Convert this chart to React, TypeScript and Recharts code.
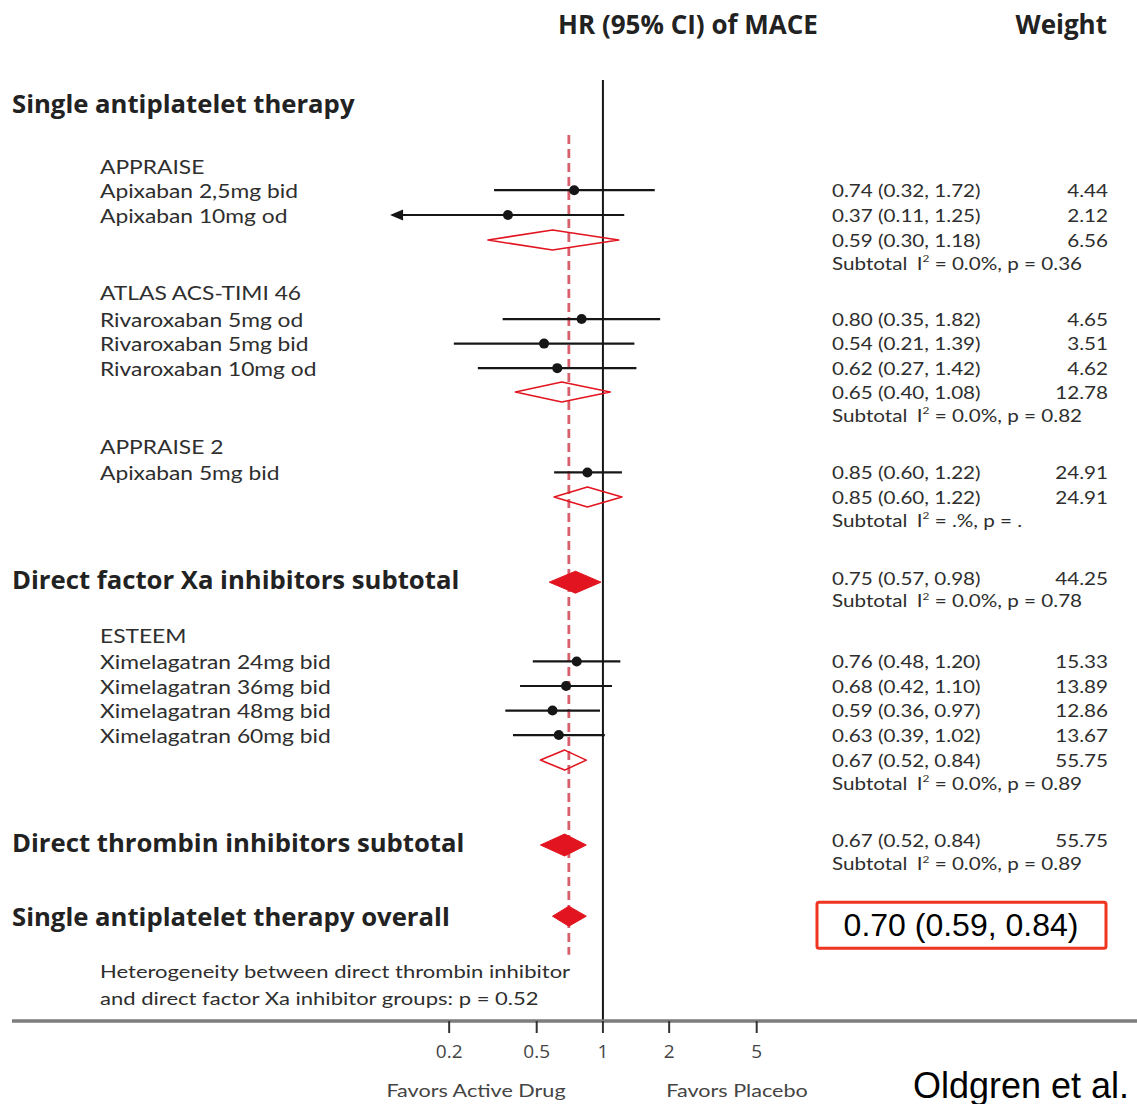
import React from 'react';
import {
  ComposedChart,
  XAxis,
  YAxis,
  Scatter,
  ReferenceLine,
  ReferenceDot,
  Customized,
} from 'recharts';

// ---------- data ----------
const X_TICKS = [0.2, 0.5, 1, 2, 5];

// individual trial arms
const armLabels = [
  'Apixaban 2,5mg bid',
  'Apixaban 10mg od',
  'Rivaroxaban 5mg od',
  'Rivaroxaban 5mg bid',
  'Rivaroxaban 10mg od',
  'Apixaban 5mg bid',
  'Ximelagatran 24mg bid',
  'Ximelagatran 36mg bid',
  'Ximelagatran 48mg bid',
  'Ximelagatran 60mg bid',
];
const armHR = [0.74, 0.37, 0.8, 0.54, 0.62, 0.85, 0.76, 0.68, 0.59, 0.63];
const armLow = [0.32, 0.11, 0.35, 0.21, 0.27, 0.6, 0.48, 0.42, 0.36, 0.39];
const armHigh = [1.72, 1.25, 1.82, 1.39, 1.42, 1.22, 1.2, 1.1, 0.97, 1.02];
const armWeight = ['4.44', '2.12', '4.65', '3.51', '4.62', '24.91', '15.33', '13.89', '12.86', '13.67'];
const armRow = [7.75, 8.76, 13.0, 14.0, 15.0, 19.25, 26.95, 27.95, 28.95, 29.95];

// trial headings
const trialNames = ['APPRAISE', 'ATLAS ACS-TIMI 46', 'APPRAISE 2', 'ESTEEM'];
const trialRow = [6.76, 11.93, 18.17, 25.87];

// pooled estimate per trial
const pooledHR = [0.59, 0.65, 0.85, 0.67];
const pooledLow = [0.3, 0.4, 0.6, 0.52];
const pooledHigh = [1.18, 1.08, 1.22, 0.84];
const pooledWeight = ['6.56', '12.78', '24.91', '55.75'];
const pooledHet = ['0.0%, p = 0.36', '0.0%, p = 0.82', '.%, p = .', '0.0%, p = 0.89'];
const pooledRow = [9.78, 15.97, 20.25, 30.97];

// drug-class subtotals
const classLabels = ['Direct factor Xa inhibitors subtotal', 'Direct thrombin inhibitors subtotal'];
const classHR = [0.75, 0.67];
const classLow = [0.57, 0.52];
const classHigh = [0.98, 0.84];
const classWeight = ['44.25', '55.75'];
const classHet = ['0.0%, p = 0.78', '0.0%, p = 0.89'];
const classRow = [23.72, 34.43];

// overall estimate
const sectionLabel = 'Single antiplatelet therapy';
const sectionRow = 4.2;
const overallLabel = 'Single antiplatelet therapy overall';
const overallHR = 0.7;
const overallLow = 0.59;
const overallHigh = 0.84;
const overallRow = 37.33;

const noteLines = [
  'Heterogeneity between direct thrombin inhibitor',
  'and direct factor Xa inhibitor groups: p = 0.52',
];
const noteRow = [39.55, 40.67];

// arrows mark intervals that reach the display floor
const CI_DISPLAY_MIN = 0.11;

// ---------- layout / style ----------
const W = 1137;
const H = 1104;
const PLOT_LEFT = 12;
const AXIS_BAND = 83;
const ROW_SPAN = 41.6;
const X_MIN = 0.00206;
const X_MAX = 267.7;

const SANS = '"Open Sans", "Noto Sans", sans-serif';
const BODY = 'Lato, "Open Sans", sans-serif';
const ARIAL = '"Liberation Sans", Arial, sans-serif';
const INK = '#161616';
const TEXT = '#2e2e2e';
const HEAD = '#222222';
const RED = '#e2141f';
const DASH_RED = '#d8606c';

const GROUP_X = 12;
const LABEL_X = 100;
const EST_X = 832;
const WEIGHT_X = 1108;

// wide body lettering
const LABEL_SIZE = 19;
const LABEL_SX = 1.2;
const EST_SIZE = 17.5;
const EST_SX = 1.18;
const NOTE_SIZE = 17.5;
const NOTE_SX = 1.26;

const fmt = (v: number) => v.toFixed(2);
const ciText = (hr: number, lo: number, hi: number) => `${fmt(hr)} (${fmt(lo)}, ${fmt(hi)})`;

type TxtProps = {
  x: number;
  y: number;
  size: number;
  sx?: number;
  anchor?: 'start' | 'middle' | 'end';
  weight?: number;
  fill?: string;
  family?: string;
  children: React.ReactNode;
};

const Txt = ({ x, y, size, sx = 1, anchor = 'start', weight = 400, fill = TEXT, family = BODY, children }: TxtProps) => (
  <text
    transform={`translate(${x},${y}) scale(${sx},1)`}
    textAnchor={anchor}
    dominantBaseline="central"
    fontFamily={family}
    fontSize={size}
    fontWeight={weight}
    fill={fill}
  >
    {children}
  </text>
);

const HetText = ({ x, y, het }: { x: number; y: number; het: string }) => (
  <Txt x={x} y={y} size={EST_SIZE} sx={EST_SX}>
    <tspan>Subtotal</tspan>
    <tspan dx={8}>I</tspan>
    <tspan fontSize={10} dy={-5}>2</tspan>
    <tspan dy={5}>{` = ${het}`}</tspan>
  </Txt>
);

// CI whisker drawn between the scaled endpoints of a segment
const ciShape = (arrowLeft: boolean) => (p: any) => {
  const { x1, y1, x2 } = p;
  return (
    <g>
      <line x1={x1} y1={y1} x2={x2} y2={y1} stroke={INK} strokeWidth={2.2} />
      {arrowLeft && (
        <polygon points={`${x1 - 2},${y1} ${x1 + 11},${y1 - 5.5} ${x1 + 11},${y1 + 5.5}`} fill={INK} />
      )}
    </g>
  );
};

// diamond spanning the CI with its apex at the point estimate (log scale)
const diamondShape = (hr: number, lo: number, hi: number, filled: boolean, half: number) => (p: any) => {
  const { x1, y1, x2 } = p;
  const t = (Math.log(hr) - Math.log(lo)) / (Math.log(hi) - Math.log(lo));
  const xc = x1 + t * (x2 - x1);
  const pts = `${x1},${y1} ${xc},${y1 - half} ${x2},${y1} ${xc},${y1 + half}`;
  return filled ? (
    <polygon points={pts} fill={RED} stroke={RED} strokeWidth={1} strokeLinejoin="round" />
  ) : (
    <polygon points={pts} fill="none" stroke={RED} strokeWidth={1.6} strokeLinejoin="round" />
  );
};

const Annotations = () => (
  <g>
    <Txt x={688} y={24} size={26} anchor="middle" weight={700} fill={HEAD} family={SANS}>
      HR (95% CI) of MACE
    </Txt>
    <Txt x={1107} y={24} size={26} anchor="end" weight={700} fill={HEAD} family={SANS}>
      Weight
    </Txt>
    <Txt x={476} y={1090} size={18} sx={1.2} anchor="middle" fill="#444">
      Favors Active Drug
    </Txt>
    <Txt x={737} y={1090} size={18} sx={1.2} anchor="middle" fill="#444">
      Favors Placebo
    </Txt>
    <Txt x={913} y={1085} size={36} fill="#000" family={ARIAL}>
      Oldgren et al.
    </Txt>
  </g>
);

const armPoints = armHR.map((hr, i) => ({ hr, pos: armRow[i] }));

export default function App() {
  return (
    <div style={{ position: 'absolute', left: 0, top: 0, width: W, height: H, background: '#fff' }}>
      <ComposedChart width={W} height={H} margin={{ top: 0, right: 0, bottom: 0, left: PLOT_LEFT }}>
        <XAxis
          dataKey="hr"
          type="number"
          scale="log"
          domain={[X_MIN, X_MAX]}
          allowDataOverflow
          ticks={X_TICKS}
          interval={0}
          height={AXIS_BAND}
          axisLine={{ stroke: '#7d7d7d', strokeWidth: 3.5 }}
          tickLine={{ stroke: '#333', strokeWidth: 2 }}
          tickSize={12}
          tickMargin={12}
          tick={{ fontSize: 19, fill: '#444', fontFamily: SANS }}
        />
        <YAxis dataKey="pos" type="number" domain={[0, ROW_SPAN]} reversed hide allowDataOverflow />

        {/* line of no effect */}
        <ReferenceLine segment={[{ x: 1, y: 3.26 }, { x: 1, y: ROW_SPAN }]} stroke={INK} strokeWidth={2} />
        {/* overall estimate */}
        <ReferenceLine
          segment={[{ x: overallHR, y: 5.5 }, { x: overallHR, y: 38.9 }]}
          stroke={DASH_RED}
          strokeWidth={2.8}
          strokeDasharray="9 5"
        />

        {/* confidence intervals of the arms */}
        {armHR.map((_, i) => (
          <ReferenceLine
            key={`ci-${i}`}
            segment={[{ x: armLow[i], y: armRow[i] }, { x: armHigh[i], y: armRow[i] }]}
            shape={ciShape(armLow[i] <= CI_DISPLAY_MIN)}
          />
        ))}

        {/* pooled diamonds */}
        {pooledHR.map((hr, i) => (
          <ReferenceLine
            key={`pd-${i}`}
            segment={[{ x: pooledLow[i], y: pooledRow[i] }, { x: pooledHigh[i], y: pooledRow[i] }]}
            shape={diamondShape(hr, pooledLow[i], pooledHigh[i], false, 10)}
          />
        ))}
        {classHR.map((hr, i) => (
          <ReferenceLine
            key={`cd-${i}`}
            segment={[{ x: classLow[i], y: classRow[i] }, { x: classHigh[i], y: classRow[i] }]}
            shape={diamondShape(hr, classLow[i], classHigh[i], true, 11)}
          />
        ))}
        <ReferenceLine
          segment={[{ x: overallLow, y: overallRow }, { x: overallHigh, y: overallRow }]}
          shape={diamondShape(overallHR, overallLow, overallHigh, true, 10)}
        />

        {/* point estimates */}
        <Scatter
          data={armPoints}
          isAnimationActive={false}
          shape={(p: any) => <circle cx={p.cx} cy={p.cy} r={5} fill={INK} />}
        />

        {/* row texts */}
        <ReferenceDot
          x={1}
          y={sectionRow}
          shape={(p: any) => (
            <Txt x={GROUP_X} y={p.cy} size={25.7} weight={700} fill={HEAD} family={SANS}>
              {sectionLabel}
            </Txt>
          )}
        />
        {trialNames.map((name, i) => (
          <ReferenceDot
            key={`tn-${i}`}
            x={1}
            y={trialRow[i]}
            shape={(p: any) => (
              <Txt x={LABEL_X} y={p.cy} size={LABEL_SIZE} sx={LABEL_SX}>
                {name}
              </Txt>
            )}
          />
        ))}
        {armLabels.map((label, i) => (
          <ReferenceDot
            key={`al-${i}`}
            x={1}
            y={armRow[i]}
            shape={(p: any) => (
              <g>
                <Txt x={LABEL_X} y={p.cy} size={LABEL_SIZE} sx={LABEL_SX}>
                  {label}
                </Txt>
                <Txt x={EST_X} y={p.cy} size={EST_SIZE} sx={EST_SX}>
                  {ciText(armHR[i], armLow[i], armHigh[i])}
                </Txt>
                <Txt x={WEIGHT_X} y={p.cy} size={EST_SIZE} sx={EST_SX} anchor="end">
                  {armWeight[i]}
                </Txt>
              </g>
            )}
          />
        ))}
        {pooledHR.map((hr, i) => (
          <ReferenceDot
            key={`pl-${i}`}
            x={1}
            y={pooledRow[i]}
            shape={(p: any) => (
              <g>
                <Txt x={EST_X} y={p.cy} size={EST_SIZE} sx={EST_SX}>
                  {ciText(hr, pooledLow[i], pooledHigh[i])}
                </Txt>
                <Txt x={WEIGHT_X} y={p.cy} size={EST_SIZE} sx={EST_SX} anchor="end">
                  {pooledWeight[i]}
                </Txt>
                <HetText x={EST_X} y={p.cy + 22.5} het={pooledHet[i]} />
              </g>
            )}
          />
        ))}
        {classHR.map((hr, i) => (
          <ReferenceDot
            key={`cl-${i}`}
            x={1}
            y={classRow[i]}
            shape={(p: any) => (
              <g>
                <Txt x={GROUP_X} y={p.cy - 3} size={25.7} weight={700} fill={HEAD} family={SANS}>
                  {classLabels[i]}
                </Txt>
                <Txt x={EST_X} y={p.cy - 4.5} size={EST_SIZE} sx={EST_SX}>
                  {ciText(hr, classLow[i], classHigh[i])}
                </Txt>
                <Txt x={WEIGHT_X} y={p.cy - 4.5} size={EST_SIZE} sx={EST_SX} anchor="end">
                  {classWeight[i]}
                </Txt>
                <HetText x={EST_X} y={p.cy + 18} het={classHet[i]} />
              </g>
            )}
          />
        ))}
        <ReferenceDot
          x={1}
          y={overallRow}
          shape={(p: any) => (
            <g>
              <Txt x={GROUP_X} y={p.cy} size={25.7} weight={700} fill={HEAD} family={SANS}>
                {overallLabel}
              </Txt>
              <rect x={817} y={p.cy - 14} width={289} height={46} rx={2} fill="#fff" stroke="#ef3420" strokeWidth={3} />
              <Txt x={961} y={p.cy + 9} size={32} anchor="middle" fill="#000" family={ARIAL}>
                {ciText(overallHR, overallLow, overallHigh)}
              </Txt>
            </g>
          )}
        />
        {noteLines.map((line, i) => (
          <ReferenceDot
            key={`nt-${i}`}
            x={1}
            y={noteRow[i]}
            shape={(p: any) => (
              <Txt x={LABEL_X} y={p.cy} size={NOTE_SIZE} sx={NOTE_SX}>
                {line}
              </Txt>
            )}
          />
        ))}

        <Customized component={<Annotations />} />
      </ComposedChart>
    </div>
  );
}
